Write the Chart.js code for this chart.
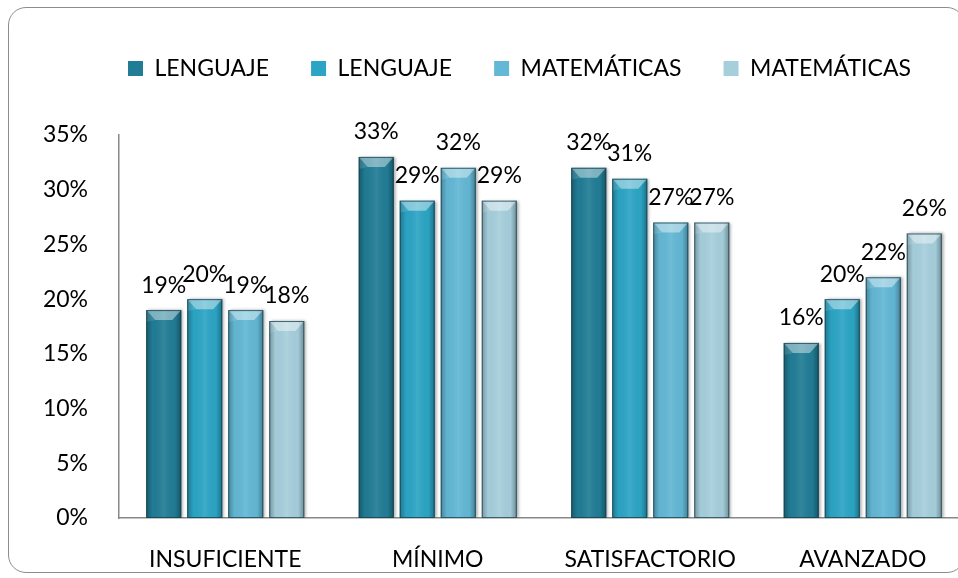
<!DOCTYPE html>
<html><head><meta charset="utf-8">
<script src="https://cdn.jsdelivr.net/npm/chart.js@4"></script>
<style>
html,body{margin:0;padding:0;background:#fff;overflow:hidden;width:958px;height:578px}
#frame{position:absolute;left:8px;top:7px;width:957px;height:566px;border:1.5px solid #8c8c8c;border-radius:18px;box-sizing:border-box}
#c{position:absolute;left:0;top:0}
</style></head><body>
<div id="frame"></div>
<canvas id="c" width="980" height="578"></canvas>
<script>
const categories = ['INSUFICIENTE', 'MÍNIMO', 'SATISFACTORIO', 'AVANZADO'];
const seriesNames = ['LENGUAJE', 'LENGUAJE', 'MATEMÁTICAS', 'MATEMÁTICAS'];
const lenguajeA = [19, 33, 32, 16];
const lenguajeB = [20, 29, 31, 20];
const matematicasA = [19, 32, 27, 22];
const matematicasB = [18, 29, 27, 26];
const yTickValues = [0, 5, 10, 15, 20, 25, 30, 35];

const seriesValues = [lenguajeA, lenguajeB, matematicasA, matematicasB];
const seriesColors = ['#217d96', '#2ca5c5', '#63b8d5', '#a6cfdc'];
const FONT = 'Lato';
const FS = 23;

const layoutPlugin = {
  id: 'layoutFix',
  beforeLayout(chart) {
    const lg = chart.legend;
    if (lg && !lg._patched) {
      const orig = lg.fit.bind(lg);
      lg.fit = function () { orig(); this.height = 120; };
      lg._patched = true;
    }
  },
  afterLayout(chart) {
    const lg = chart.legend;
    if (lg) { const w = lg.right - lg.left; lg.left = 86; lg.right = 86 + w; }
  }
};

const barStyle = {
  id: 'barStyle',
  beforeDatasetsDraw(chart) {
    const ctx = chart.ctx;
    ctx.save();
    ctx.shadowColor = 'rgba(0,0,0,0.35)';
    ctx.shadowOffsetX = 2;
    ctx.shadowOffsetY = 0;
    ctx.shadowBlur = 3;
  },
  afterDatasetsDraw(chart) {
    const ctx = chart.ctx;
    ctx.restore();
    chart.data.datasets.forEach((ds, di) => {
      const meta = chart.getDatasetMeta(di);
      meta.data.forEach((el, i) => {
        const p = el.getProps(['x', 'y', 'base', 'width'], true);
        const l = p.x - p.width / 2, r = p.x + p.width / 2, t = p.y, b = p.base;
        ctx.save();
        const g = ctx.createLinearGradient(l, 0, r, 0);
        g.addColorStop(0, 'rgba(0,0,0,0.28)');
        g.addColorStop(0.18, 'rgba(0,0,0,0.02)');
        g.addColorStop(0.5, 'rgba(255,255,255,0.08)');
        g.addColorStop(0.82, 'rgba(0,0,0,0.02)');
        g.addColorStop(1, 'rgba(0,0,0,0.32)');
        ctx.fillStyle = g;
        ctx.fillRect(l, t, r - l, b - t);
        const inset = 9, h = 10;
        ctx.beginPath();
        ctx.moveTo(l, t); ctx.lineTo(r, t); ctx.lineTo(r - inset, t + h); ctx.lineTo(l + inset, t + h); ctx.closePath();
        ctx.fillStyle = 'rgba(255,255,255,0.42)';
        ctx.fill();
        ctx.beginPath();
        ctx.moveTo(l, t); ctx.lineTo(l + inset, t + h); ctx.lineTo(l, t + h + 2); ctx.closePath();
        ctx.fillStyle = 'rgba(255,255,255,0.12)';
        ctx.fill();
        ctx.strokeStyle = 'rgba(20,60,75,0.75)';
        ctx.lineWidth = 1;
        ctx.strokeRect(l + 0.5, t + 0.5, r - l - 1, b - t - 1);
        ctx.restore();
        ctx.save();
        ctx.font = FS + 'px ' + FONT;
        ctx.fillStyle = '#000';
        ctx.textAlign = 'center';
        ctx.textBaseline = 'middle';
        ctx.fillText(ds.data[i] + '%', p.x, t - 25);
        ctx.restore();
      });
    });
  }
};

new Chart(document.getElementById('c'), {
  type: 'bar',
  data: {
    labels: categories,
    datasets: seriesValues.map((vals, k) => ({
      label: seriesNames[k],
      data: vals,
      backgroundColor: seriesColors[k],
      borderWidth: 0,
      categoryPercentage: 0.772,
      barPercentage: 0.854
    }))
  },
  options: {
    responsive: false,
    animation: false,
    devicePixelRatio: 1,
    layout: { padding: { top: 15, left: 0, right: 11, bottom: 0 } },
    plugins: {
      legend: {
        position: 'top',
        align: 'start',
        labels: {
          boxWidth: 15, boxHeight: 15, padding: 42,
          color: '#000',
          font: { family: FONT, size: FS }
        }
      },
      tooltip: { enabled: false }
    },
    scales: {
      x: {
        grid: { display: false },
        border: { display: true, color: '#888', width: 1.5 },
        ticks: { color: '#000', padding: 20, font: { family: FONT, size: FS }, maxRotation: 0 },
        afterFit(s) { s.height = 60; }
      },
      y: {
        min: 0, max: 35,
        afterBuildTicks(s) { s.ticks = yTickValues.map(v => ({ value: v })); },
        grid: { display: false },
        border: { display: true, color: '#888', width: 1.5 },
        ticks: { color: '#000', padding: 23, font: { family: FONT, size: FS }, callback: v => v + '%' },
        afterFit(s) { s.width = 119; }
      }
    }
  },
  plugins: [layoutPlugin, barStyle]
});
</script>
</body></html>
